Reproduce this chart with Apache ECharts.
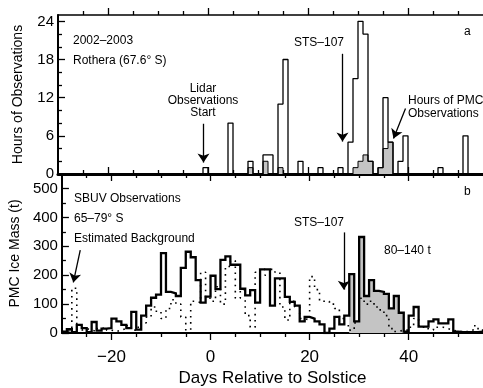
<!DOCTYPE html>
<html><head><meta charset="utf-8">
<script src="https://cdn.jsdelivr.net/npm/echarts@6/dist/echarts.min.js"></script>
<style>html,body{margin:0;padding:0;background:#fff}#c{width:483px;height:388px}</style>
</head><body><div id="c"></div>
<script>
// ---- axis setup ----
const dayMin = -30, dayMax = 55;
const dayMajor = [-20, 0, 20, 40];
const dayMinor = [-25, -15, -10, -5, 5, 10, 15, 25, 30, 35, 45, 50];
const hourTicks = [0, 6, 12, 18, 24];
const hourMinor = [2, 4, 8, 10, 14, 16, 20, 22];
const massTicks = [0, 100, 200, 300, 400, 500];
const massMinor = [50, 150, 250, 350, 450];

// ---- panel a: hours of observation (1-day bins, start day) ----
const hourBins   = [-1, 4, 8, 11, 12, 14, 15, 18, 22, 26, 28, 29, 30, 31, 32, 34, 35, 36, 38, 39, 46, 51];
const hoursTotal = [ 1, 8, 2,  3,  3, 11, 18,  2,  1,  1,  5, 15, 24, 22,  2,  1, 12,  5,  2,  6,  1,  6];
const hoursPMC   = [ 0, 0, 1,  2,  0,  1,  0,  0,  0,  0,  0,  1,  2,  3,  2,  1,  4,  5,  0,  0,  0,  0];

// ---- panel b: SBUV ice mass, days -30 .. 54 ----
const iceMass = [
  5, 13, 3, 28, 17, 3, 38, 8, 15, 17,
  50, 40, 28, 17, 73, 12, 60, 95, 122, 133,
  276, 142, 137, 128, 225, 281, 262, 183, 105, 126,
  198, 152, 253, 265, 236, 236, 153, 130, 148, 105,
  220, 220, 95, 189, 189, 125, 108, 95, 40, 56,
  50, 40, 30, 0, 15, 56, 30, 60, 204, 40,
  332, 128, 183, 146, 142, 135, 85, 128, 70, 5,
  60, 90, 22, 22, 40, 47, 33, 33, 47, 5,
  3, 3, 3, 3, 5
];
const background = [
  5, 10, 155, 10, 15, 10, 5, 15, 20, 10,
  5, 10, 15, 25, 10, 20, 35, 55, 90, 75,
  50, 85, 115, 100, 55, 0, 110, 105, 210, 120,
  110, 160, 100, 230, 250, 120, 150, 60, 20, 210,
  220, 200, 220, 210, 90, 45, 110, 90, 50, 45,
  195, 150, 110, 110, 100, 85, 50, 25, 10, 35,
  120, 100, 110, 90, 80, 60, 15, 5, 10, 10,
  20, 50, 25, 15, 10, 20, 20, 15, 10, 5,
  5, 5, 10, 25, 10
];
const highlightStart = 28, highlightEnd = 39;

// ---- build step data ----
function fullFromSparse(bins, vals) {
  const arr = new Array(dayMax - dayMin).fill(0);
  bins.forEach((b, i) => { arr[b - dayMin] = vals[i]; });
  return arr;
}
function stepPts(arr) {
  const pts = arr.map((v, i) => [dayMin + i, v]);
  pts.push([dayMax, arr[arr.length - 1]]);
  return pts;
}
const totalPts = stepPts(fullFromSparse(hourBins, hoursTotal));
const pmcPts = stepPts(fullFromSparse(hourBins, hoursPMC));
const massPts = stepPts(iceMass);
const bgPts = stepPts(background);
const grayPts = [];
for (let d = highlightStart; d < highlightEnd; d++) grayPts.push([d, iceMass[d - dayMin]]);
grayPts.push([highlightEnd, 0]);

const FONT = 'Liberation Sans, Arial, sans-serif';
const minus = v => String(v).replace('-', '\u2212');

function xAx(grid, pos, ticks, len, inside, lw, labels) {
  return {
    type: 'value', gridIndex: grid, position: pos, min: dayMin, max: dayMax,
    axisLine: { show: lw > 0, onZero: false, lineStyle: { color: '#000', width: lw } },
    axisTick: { show: true, customValues: ticks, inside: inside, length: len, lineStyle: { color: '#000', width: 1.3 } },
    axisLabel: labels ? { show: true, customValues: dayMajor, formatter: minus, color: '#000', fontSize: 17, fontFamily: FONT, margin: 16 } : { show: false },
    splitLine: { show: false }
  };
}
function yAx(grid, max, ticks, minor, labels, name) {
  return [{
    type: 'value', gridIndex: grid, min: 0, max: max, position: 'left',
    axisLine: { show: true, onZero: false, lineStyle: { color: '#000', width: 2 } },
    axisTick: { show: true, customValues: ticks, inside: true, length: 7, lineStyle: { color: '#000', width: 1.3 } },
    axisLabel: { show: true, customValues: labels, color: '#000', fontSize: 15, fontFamily: FONT, margin: 4 },
    splitLine: { show: false },
    name: name, nameLocation: 'middle', nameRotate: 90, nameGap: 33,
    nameTextStyle: { color: '#000', fontSize: 14, fontFamily: FONT }
  }, {
    type: 'value', gridIndex: grid, min: 0, max: max, position: 'left',
    axisLine: { show: false, onZero: false },
    axisTick: { show: true, customValues: minor, inside: true, length: 4, lineStyle: { color: '#000', width: 1.3 } },
    axisLabel: { show: false }, splitLine: { show: false }
  }];
}

const bottomMajor = xAx(1, 'bottom', dayMajor, 7, false, 2, true);
bottomMajor.name = 'Days Relative to Solstice';
bottomMajor.nameLocation = 'middle';
bottomMajor.nameGap = 37;
bottomMajor.nameTextStyle = { color: '#000', fontSize: 17, fontFamily: FONT };

const arrowLine = (pairs) => ({
  silent: true, symbol: ['none', 'arrow'], symbolSize: 9, animation: false,
  label: { show: false },
  lineStyle: { color: '#000', width: 1.3, type: 'solid' },
  emphasis: { disabled: true },
  data: pairs.map(p => [{ coord: p[0] }, { coord: p[1] }])
});

const txt = (x, y, s, align) => ({
  type: 'text', x: x, y: y, z: 10,
  style: { text: s, fill: '#000', font: '12px ' + FONT, textAlign: align || 'left', textVerticalAlign: 'middle' }
});

const chart = echarts.init(document.getElementById('c'), null, { renderer: 'canvas' });
chart.setOption({
  animation: false,
  backgroundColor: '#fff',
  grid: [
    { left: 58, right: 0, top: 15, height: 159 },
    { left: 58, right: 0, top: 174, height: 159 }
  ],
  xAxis: [
    xAx(0, 'bottom', dayMajor, 7, true, 3, false),
    xAx(0, 'bottom', dayMinor, 4, true, 0, false),
    xAx(0, 'top', dayMajor, 7, false, 1.5, false),
    xAx(0, 'top', dayMinor, 4, false, 0, false),
    xAx(1, 'top', dayMajor, 7, true, 0, false),
    xAx(1, 'top', dayMinor, 4, true, 0, false),
    bottomMajor,
    xAx(1, 'bottom', dayMinor, 4, false, 0, false)
  ],
  yAxis: [
    ...yAx(0, 25, hourTicks, hourMinor, hourTicks, 'Hours of Observations'),
    ...yAx(1, 550, massTicks, massMinor, massTicks, 'PMC Ice Mass (t)')
  ],
  series: [
    { type: 'line', xAxisIndex: 0, yAxisIndex: 0, step: 'end', data: pmcPts, symbol: 'none', z: 2,
      lineStyle: { color: '#000', width: 1 }, areaStyle: { color: '#c4c4c4', opacity: 1 } },
    { type: 'line', xAxisIndex: 0, yAxisIndex: 0, step: 'end', data: totalPts, symbol: 'none', z: 3,
      lineStyle: { color: '#000', width: 1.3 },
      markLine: arrowLine([
        [[-0.9, 7.9], [-0.9, 1.8]],
        [[26.9, 18.9], [26.9, 5.1]],
        [[39.5, 10.3], [37.1, 5.6]]
      ]) },
    { type: 'line', xAxisIndex: 6, yAxisIndex: 2, step: 'end', data: grayPts, symbol: 'none', z: 1,
      lineStyle: { width: 0 }, areaStyle: { color: '#c4c4c4', opacity: 1 } },
    { type: 'line', xAxisIndex: 6, yAxisIndex: 2, step: 'end', data: bgPts, symbol: 'none', z: 2,
      lineStyle: { color: '#000', width: 1.6, type: [1.6, 4.5], cap: 'butt' } },
    { type: 'line', xAxisIndex: 6, yAxisIndex: 2, step: 'end', data: massPts, symbol: 'none', z: 3,
      lineStyle: { color: '#000', width: 2.3, join: 'miter' },
      markLine: arrowLine([
        [[-26.3, 287], [-27.7, 175]],
        [[26.9, 348], [26.9, 150]]
      ]) }
  ],
  graphic: [
    txt(73, 41, '2002\u20132003'),
    txt(73, 61, 'Rothera (67.6\u00b0 S)'),
    txt(203, 89, 'Lidar', 'center'),
    txt(203, 101, 'Observations', 'center'),
    txt(203, 113, 'Start', 'center'),
    txt(294, 43, 'STS\u2013107'),
    txt(464, 32, 'a'),
    txt(408, 101, 'Hours of PMC'),
    txt(408, 114, 'Observations'),
    txt(74, 199, 'SBUV Observations'),
    txt(74, 219, '65\u201379\u00b0 S'),
    txt(74, 239, 'Estimated Background'),
    txt(464, 192, 'b'),
    txt(294, 223, 'STS\u2013107'),
    txt(384, 251, '80\u2013140 t')
  ]
});
</script>
</body></html>
